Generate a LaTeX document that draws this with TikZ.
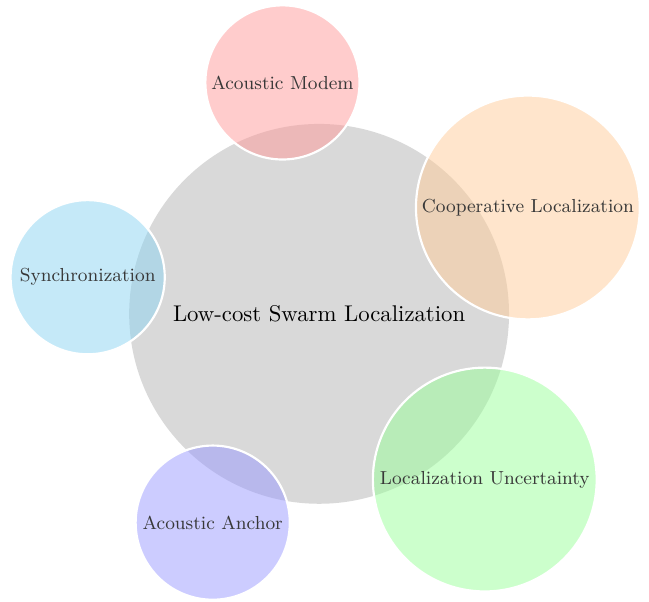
\documentclass[tikz,border=0pt]{standalone}
\usepackage{xcolor}
\usepackage{tikz}
\usetikzlibrary{positioning}
\definecolor{modemcol}{RGB}{255,153,153}
\definecolor{coopcol}{RGB}{255,204,153}
\definecolor{synccol}{RGB}{140,212,242}
\definecolor{uncertcol}{RGB}{153,255,153}
\definecolor{anchorcol}{RGB}{153,153,255}
\tikzset{
  hub/.style={circle, fill=black!15, minimum size=6.16cm, inner sep=0pt,
              font=\fontsize{10.5}{12}\selectfont},
  sat/.style={circle, draw=white, line width=1pt, fill opacity=0.5,
              text opacity=1, text=black!78, inner sep=0pt,
              font=\fontsize{8.7}{10}\selectfont},
  satsmall/.style={sat, minimum size=2.5cm},
  satbig/.style={sat, minimum size=3.63cm}
}
\begin{document}
\begin{tikzpicture}
        \useasboundingbox (-5.175,-4.67) rectangle (5.35,5.09);
        \node[hub] (hub) at (0,0) {Low-cost Swarm Localization};
        \foreach \ang/\txt/\col/\kind [count=\i] in {
            99/Acoustic Modem/modemcol/satsmall,
            27/Cooperative Localization/coopcol/satbig,
            171/Synchronization/synccol/satsmall,
            -45/Localization Uncertainty/uncertcol/satbig,
            -117/Acoustic Anchor/anchorcol/satsmall} {
          \node[\kind, fill=\col] (s\i) at (\ang:3.8) {\txt};
        }
      \end{tikzpicture}
\end{document}
